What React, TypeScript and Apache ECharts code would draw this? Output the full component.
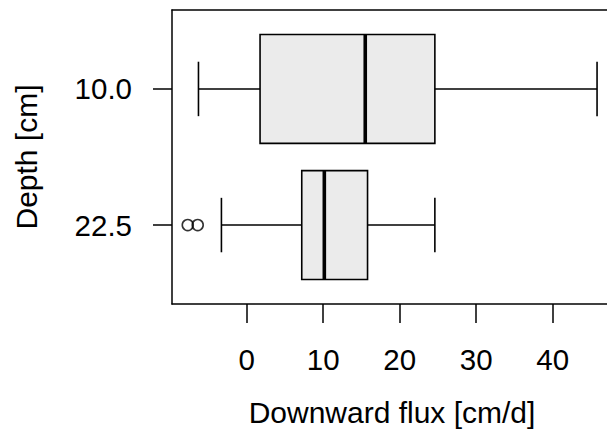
import React, { useEffect, useRef } from "react";
import * as echarts from "echarts";

const depthLabels = ["10.0", "22.5"];
// [whiskerLow, Q1, median, Q3, whiskerHigh]
const boxStats = [
  [-6.3, 1.75, 15.5, 24.6, 45.8],
  [-3.3, 7.2, 10.15, 15.8, 24.6],
];
const outlierGroups = [1, 1];
const outlierValues = [-7.7, -6.4];
const xTicks = [0, 10, 20, 30, 40];

export default function App() {
  const ref = useRef<HTMLDivElement>(null);
  useEffect(() => {
    if (!ref.current) return;
    const chart = echarts.init(ref.current, null, { renderer: "svg" });
    const font = "Liberation Sans, Arial, Helvetica, sans-serif";
    const boxData = boxStats.map((s, i) => [i + 1, ...s]);
    const outData = outlierValues.map((v, i) => [v, outlierGroups[i] + 1]);
    chart.setOption({
      animation: false,
      backgroundColor: "#ffffff",
      grid: { left: 172, top: 10, right: 0, bottom: 126 },
      xAxis: [
        {
          type: "value",
          min: -9.76,
          max: 47.1,
          position: "bottom",
          axisLine: { show: true, onZero: false, lineStyle: { color: "#000", width: 1.5 } },
          axisTick: {
            show: true,
            length: 19,
            customValues: xTicks,
            lineStyle: { color: "#000", width: 1.5 },
          },
          axisLabel: {
            customValues: xTicks,
            margin: 40,
            fontSize: 29.5,
            fontFamily: font,
            color: "#000",
          },
          splitLine: { show: false },
        },
        {
          type: "value",
          min: -9.76,
          max: 47.1,
          position: "top",
          axisLine: { show: true, onZero: false, lineStyle: { color: "#000", width: 1.5 } },
          axisTick: { show: false },
          axisLabel: { show: false },
          splitLine: { show: false },
        },
      ],
      yAxis: {
        type: "value",
        min: 0.42,
        max: 2.58,
        inverse: true,
        axisLine: { show: true, onZero: false, lineStyle: { color: "#000", width: 1.5 } },
        axisTick: {
          show: true,
          length: 19,
          customValues: [1, 2],
          lineStyle: { color: "#000", width: 1.5 },
        },
        axisLabel: {
          customValues: [1, 2],
          formatter: (v: number) => depthLabels[Math.round(v) - 1] ?? "",
          margin: 40,
          fontSize: 29.5,
          fontFamily: font,
          color: "#000",
        },
        splitLine: { show: false },
      },
      series: [
        {
          type: "custom",
          data: boxData,
          encode: { x: [1, 2, 3, 4, 5], y: 0 },
          renderItem: (params: any, api: any) => {
            const pos = api.value(0);
            const wl = api.value(1), q1 = api.value(2), md = api.value(3), q3 = api.value(4), wh = api.value(5);
            const c = api.coord([0, pos]);
            const yc = c[1];
            const half = Math.abs(api.coord([0, pos + 0.4])[1] - yc);
            const capHalf = half / 2;
            const X = (v: number) => api.coord([v, pos])[0];
            const lw = 1.6;
            const ls = { stroke: "#000", lineWidth: lw, fill: "none" };
            return {
              type: "group",
              children: [
                { type: "line", shape: { x1: X(wl), y1: yc, x2: X(q1), y2: yc }, style: ls },
                { type: "line", shape: { x1: X(q3), y1: yc, x2: X(wh), y2: yc }, style: ls },
                { type: "line", shape: { x1: X(wl), y1: yc - capHalf, x2: X(wl), y2: yc + capHalf }, style: ls },
                { type: "line", shape: { x1: X(wh), y1: yc - capHalf, x2: X(wh), y2: yc + capHalf }, style: ls },
                {
                  type: "rect",
                  shape: { x: X(q1), y: yc - half, width: X(q3) - X(q1), height: 2 * half },
                  style: { fill: "#ebebeb", stroke: "#000", lineWidth: lw },
                },
                {
                  type: "line",
                  shape: { x1: X(md), y1: yc - half, x2: X(md), y2: yc + half },
                  style: { stroke: "#000", lineWidth: 3.6 },
                },
              ],
            };
          },
        },
        {
          type: "scatter",
          data: outData,
          symbol: "circle",
          symbolSize: 11,
          itemStyle: { color: "rgba(0,0,0,0)", borderColor: "#000", borderWidth: 1.6 },
        },
      ],
      graphic: [
        {
          type: "text",
          x: 392,
          y: 412,
          style: {
            text: "Downward flux [cm/d]",
            font: `30px ${font}`,
            fill: "#000",
            align: "center",
            verticalAlign: "middle",
          },
        },
        {
          type: "text",
          x: 26,
          y: 157,
          rotation: Math.PI / 2,
          style: {
            text: "Depth [cm]",
            font: `30px ${font}`,
            fill: "#000",
            align: "center",
            verticalAlign: "middle",
          },
        },
      ],
    });
    return () => chart.dispose();
  }, []);
  return (
    <div
      ref={ref}
      style={{ position: "fixed", left: 0, top: 0, width: 607, height: 430, background: "#fff" }}
    />
  );
}
